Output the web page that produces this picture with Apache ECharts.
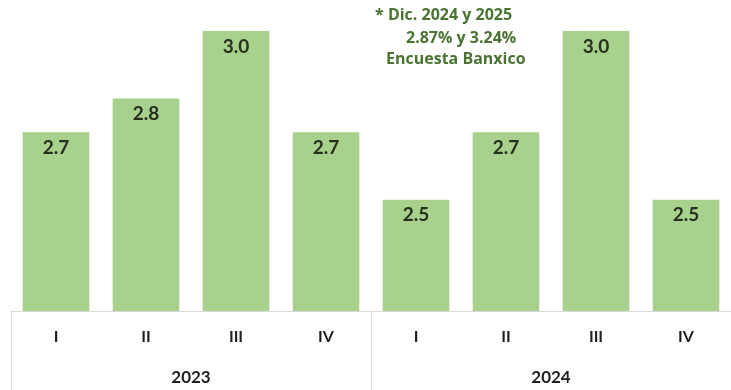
<!DOCTYPE html>
<html>
<head>
<meta charset="utf-8">
<script src="https://cdn.jsdelivr.net/npm/echarts@6/dist/echarts.min.js"></script>
<style>
  html, body { margin: 0; padding: 0; background: #fff; }
  #chart { width: 731px; height: 390px; }
</style>
</head>
<body>
<div id="chart"></div>
<script>
// Quarterly values, two years
const quarters = ['I', 'II', 'III', 'IV', 'I', 'II', 'III', 'IV'];
const years = ['2023', '2024'];
const values = [2.7, 2.8, 3.0, 2.7, 2.5, 2.7, 3.0, 2.5];
const noteLines = ['* Dic. 2024 y 2025', '2.87% y 3.24%', 'Encuesta Banxico'];

const chart = echarts.init(document.getElementById('chart'));
const font = 'Lato, "Open Sans", sans-serif';
const noteFont = '"Open Sans", Lato, sans-serif';
const noteColor = '#4a7332';

chart.setOption({
  animation: false,
  grid: { left: 11, width: 723, top: 14, bottom: 79 },
  xAxis: [
    {
      type: 'category',
      data: quarters,
      position: 'bottom',
      axisLine: { show: true, lineStyle: { color: '#d9d9d9', width: 1 } },
      axisTick: { show: false },
      axisLabel: {
        margin: 18,
        fontFamily: font,
        fontWeight: 'bold',
        fontSize: 16,
        color: '#1f1f1f'
      }
    },
    {
      type: 'category',
      data: years,
      position: 'bottom',
      axisLine: { show: false },
      axisTick: { show: true, length: 79, lineStyle: { color: '#d9d9d9', width: 1 } },
      axisLabel: {
        margin: 58,
        fontFamily: font,
        fontWeight: 'bold',
        fontSize: 17,
        color: '#1f1f1f'
      }
    }
  ],
  yAxis: {
    type: 'value',
    min: 2.17,
    max: 3.05,
    show: false,
    splitLine: { show: false }
  },
  series: [{
    type: 'bar',
    data: values,
    xAxisIndex: 0,
    barWidth: '74%',
    itemStyle: { color: '#a9d18e' },
    label: {
      show: true,
      position: 'insideTop',
      distance: 6,
      formatter: p => p.value.toFixed(1),
      fontFamily: font,
      fontWeight: 'bold',
      fontSize: 19,
      color: '#26301f'
    }
  }],
  graphic: [
    { type: 'text', left: 375, top: 7, style: { text: noteLines[0], font: 'bold 16px ' + noteFont, fill: noteColor } },
    { type: 'text', left: 406, top: 30, style: { text: noteLines[1], font: 'bold 16px ' + noteFont, fill: noteColor } },
    { type: 'text', left: 386, top: 51, style: { text: noteLines[2], font: 'bold 16px ' + noteFont, fill: noteColor } }
  ]
});
</script>
</body>
</html>
